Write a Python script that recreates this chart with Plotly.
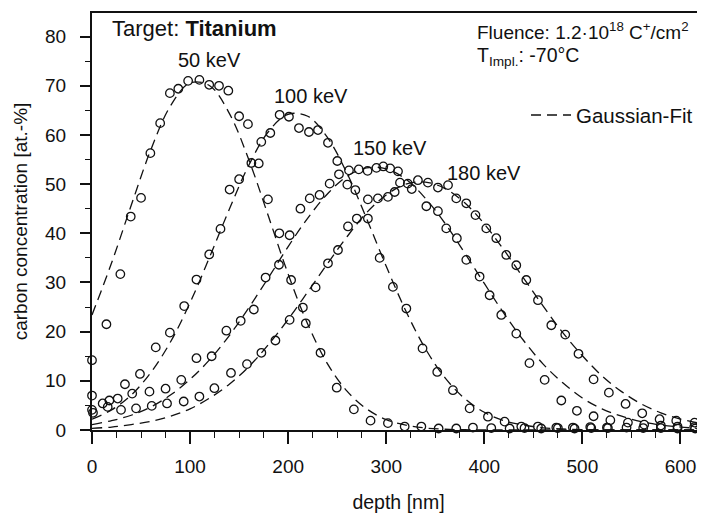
import plotly.graph_objects as go

# ---------------- data ----------------
depth_50 = [0, 14.7, 28.9, 39.5, 50, 59.5, 69.5, 79.4, 88, 98, 109.5, 119.5, 129.5, 139, 150,
            159, 170, 179.4, 191, 203, 218, 233, 249.5, 267, 284, 301.7, 318.8, 335.8, 353.4,
            371.4, 388.4, 407.1, 425.8, 441, 458, 475, 492, 509, 526]
conc_50 = [14.2, 21.5, 31.7, 43.4, 47.2, 56.3, 62.4, 68.5, 69.4, 71.0, 71.2, 70.2, 70.0, 69.0, 63.8,
           62.2, 54.2, 46.9, 40.0, 30.5, 21.7, 15.7, 8.6, 4.2, 1.9, 1.4, 0.7, 0.7, 0.3,
           0.3, 0.5, 0.4, 0.3, 0.4, 0.3, 0.4, 0.3, 0.4, 0.4]

depth_100 = [0, 17.7, 33.6, 48.9, 65, 79.4, 94, 106.5, 119.5, 131, 140.3, 150, 162.5, 172.6, 181.8,
             191.3, 200.8, 211, 221.2, 230.4, 240.6, 250.1, 260.3, 268.5, 281.3, 293.3, 306.8, 320.5,
             337, 352, 368, 385, 403.7, 420.7, 437.7, 454.6, 473.4, 490.3, 508, 525, 545, 562, 580,
             597, 615]
conc_100 = [7.0, 6.0, 9.3, 11.4, 16.8, 19.8, 25.2, 30.6, 35.7, 40.9, 48.9, 51.0, 54.3, 58.6, 60.4,
            64.1, 63.7, 61.4, 60.6, 61.0, 58.4, 54.7, 49.9, 48.8, 43.0, 35.0, 29.1, 24.7,
            16.6, 11.8, 8.1, 4.4, 2.7, 1.7, 0.7, 0.7, 0.5, 0.5, 0.6, 0.5, 0.5, 0.4, 0.4,
            0.3, 0.3]

depth_150 = [0, 10.9, 26.2, 41, 58.6, 75, 91, 106.5, 122, 137, 151.6, 165, 177, 190.6, 201.5,
             212.5, 222, 232, 242.3, 251.8, 262, 272, 281, 290, 297, 304, 312, 326, 340.9, 352.7,
             361.2, 372, 381.6, 395.2, 405.4, 417.3, 432.6, 446, 461.5, 478.5, 494.4, 511.4,
             528.5, 546.4, 563, 580, 597, 614]
conc_150 = [4.1, 5.4, 6.4, 7.4, 7.8, 8.4, 10.2, 14.6, 15.0, 20.2, 22.2, 24.5, 31.0, 33.6, 39.6,
            45.0, 47.1, 47.8, 50.1, 52.0, 52.8, 53.0, 52.7, 53.3, 53.6, 53.2, 52.6, 49.0, 45.5, 44.5,
            41.0, 39.0, 34.6, 31.2, 27.4, 23.4, 19.6, 13.6, 10.2, 6.0, 3.9, 2.8,
            2.0, 1.5, 1.1, 0.9, 0.7, 0.6]

depth_180 = [1, 16, 29.6, 44.9, 60.9, 76.5, 93.5, 109.5, 124.8, 141.7, 158, 172.7, 187, 201.5,
             215, 228, 240.6, 250.8, 261, 270, 281.3, 291.5, 301.7, 308.6, 314, 322, 332.3, 342.5,
             352.7, 363, 371.4, 381.6, 391, 402, 412.2, 422.4, 432.6, 442.8, 454.7, 468.3, 482.5,
             496, 511.4, 527, 544, 561, 578.7, 595.7, 614.4]
conc_180 = [3.5, 4.7, 4.1, 4.4, 4.9, 5.4, 5.8, 6.8, 8.5, 11.6, 13.4, 15.7, 18.2, 22.4,
            24.9, 29.0, 33.9, 36.6, 41.4, 43.0, 46.9, 47.1, 47.4, 48.4, 50.3, 50.1, 50.8, 50.3,
            49.3, 49.8, 47.1, 46.1, 43.7, 41.0, 39.0, 35.6, 33.5, 30.5, 26.4, 21.3, 19.4,
            15.5, 10.3, 7.6, 5.3, 3.4, 2.2, 1.9, 1.5]

# Gaussian-fit curves, every 20 nm
fit_depth = [0, 20, 40, 60, 80, 100, 120, 140, 160, 180, 200, 220, 240, 260, 280, 300,
             320, 340, 360, 380, 400, 420, 440, 460, 480, 500, 520, 540, 560, 580, 600, 620]
fit_50 = [23.4, 34.0, 45.7, 57.0, 65.9, 70.6, 70.0, 64.4, 54.9, 43.4, 31.7, 21.5, 13.5, 7.9, 4.3, 2.1,
          1.0, 0.4, 0.15, 0.05, 0.02, 0, 0, 0, 0, 0, 0, 0, 0, 0, 0, 0]
fit_100 = [2.2, 4.1, 7.1, 11.7, 17.9, 25.9, 35.2, 44.9, 53.9, 60.7, 64.2, 63.8, 59.5, 52.2, 43.0, 33.3,
           24.2, 16.5, 10.6, 6.4, 3.6, 1.9, 1.0, 0.45, 0.2, 0.08, 0.03, 0.01, 0, 0, 0, 0]
fit_150 = [1.1, 1.9, 3.0, 4.7, 7.1, 10.3, 14.3, 19.2, 24.9, 31.0, 37.3, 43.1, 48.0, 51.6, 53.3, 53.1,
           51.0, 47.1, 42.0, 36.0, 29.8, 23.7, 18.2, 13.4, 9.6, 6.5, 4.3, 2.8, 1.7, 1.0, 0.6, 0.3]
fit_180 = [0.34, 0.6, 1.1, 1.75, 2.8, 4.3, 6.5, 9.3, 12.9, 17.4, 22.5, 28.1, 33.8, 39.3, 44.2, 47.8,
           50.0, 50.4, 49.1, 46.2, 41.9, 36.6, 30.9, 25.2, 19.8, 15.1, 11.0, 7.8, 5.3, 3.5, 2.2, 1.4]

x_ticks = [0, 100, 200, 300, 400, 500, 600]
y_ticks = [0, 10, 20, 30, 40, 50, 60, 70, 80]

energy_labels = ["50 keV", "100 keV", "150 keV", "180 keV"]

# ---------------- figure ----------------
FONT = "Liberation Sans, Arial, sans-serif"
INK = "#111111"

fig = go.Figure()

series = [(depth_50, conc_50), (depth_100, conc_100), (depth_150, conc_150), (depth_180, conc_180)]
fits = [fit_50, fit_100, fit_150, fit_180]

for i, f in enumerate(fits):
    fig.add_trace(go.Scatter(
        x=fit_depth, y=f, mode="lines",
        line=dict(color=INK, width=1.3, dash="10px,6px", shape="spline", smoothing=1.0),
        name="Gaussian-Fit", showlegend=(i == 0), hoverinfo="skip", cliponaxis=False))

for (xs, ys), lab in zip(series, energy_labels):
    fig.add_trace(go.Scatter(
        x=xs, y=ys, mode="markers", name=lab, showlegend=False, cliponaxis=False,
        marker=dict(symbol="circle-open", size=8.5, color=INK, line=dict(width=1.3, color=INK))))

# curve labels
label_pos = [(120, 75.2), (223.5, 67.9), (303.5, 57.3), (400, 52.2)]
for lab, (lx, ly) in zip(energy_labels, label_pos):
    fig.add_annotation(x=lx, y=ly, xref="x", yref="y", text=lab, showarrow=False,
                       font=dict(family=FONT, size=20, color=INK))

fig.add_annotation(xref="paper", yref="paper", x=0.029, y=0.964, xanchor="left", yanchor="middle",
                   text="Target: <b>Titanium</b>", showarrow=False,
                   font=dict(family=FONT, size=22, color=INK))
fig.add_annotation(xref="paper", yref="paper", x=0.624, y=0.957, xanchor="left", yanchor="middle",
                   text="Fluence: 1.2·10<sup>18</sup> C<sup>+</sup>/cm<sup>2</sup>", showarrow=False,
                   font=dict(family=FONT, size=19, color=INK))
fig.add_annotation(xref="paper", yref="paper", x=0.624, y=0.895, xanchor="left", yanchor="middle",
                   text="T<sub>Impl.</sub>: -70°C", showarrow=False,
                   font=dict(family=FONT, size=19.5, color=INK))

# The page body adds an 8 px offset, so the figure is 8 px smaller than the window
fig.update_layout(
    width=697, height=507,
    margin=dict(l=84, r=0, t=5, b=85, autoexpand=False),
    paper_bgcolor="white", plot_bgcolor="white",
    font=dict(family=FONT, size=19, color=INK),
    legend=dict(x=0.708, y=0.755, xanchor="left", yanchor="middle", bgcolor="rgba(0,0,0,0)",
                font=dict(family=FONT, size=20.5, color=INK), itemwidth=40),
    showlegend=True,
)

fig.update_xaxes(
    range=[0, 625], showgrid=False, zeroline=False, automargin=False,
    showline=True, linecolor=INK, linewidth=2, mirror=True,
    tickmode="array", tickvals=x_ticks, ticktext=[str(v) for v in x_ticks],
    ticks="outside", ticklen=12, tickwidth=1.5, tickcolor=INK,
    minor=dict(dtick=25, tick0=0, ticks="outside", ticklen=6, tickwidth=1.2, tickcolor=INK),
    tickfont=dict(family=FONT, size=19, color=INK), ticklabelstandoff=6,
    title=dict(text="depth [nm]", font=dict(family=FONT, size=19.5, color=INK), standoff=20),
)
fig.update_yaxes(
    range=[0, 84.8], showgrid=False, zeroline=False, automargin=False,
    showline=True, linecolor=INK, linewidth=2,
    tickmode="array", tickvals=y_ticks, ticktext=[str(v) for v in y_ticks],
    ticks="outside", ticklen=10, tickwidth=1.5, tickcolor=INK,
    minor=dict(dtick=5, tick0=0, ticks="outside", ticklen=5, tickwidth=1.2, tickcolor=INK),
    tickfont=dict(family=FONT, size=19, color=INK), ticklabelstandoff=10,
    title=dict(text="carbon concentration [at.-%]", font=dict(family=FONT, size=19, color=INK), standoff=12),
)

fig.write_html("out.html")
